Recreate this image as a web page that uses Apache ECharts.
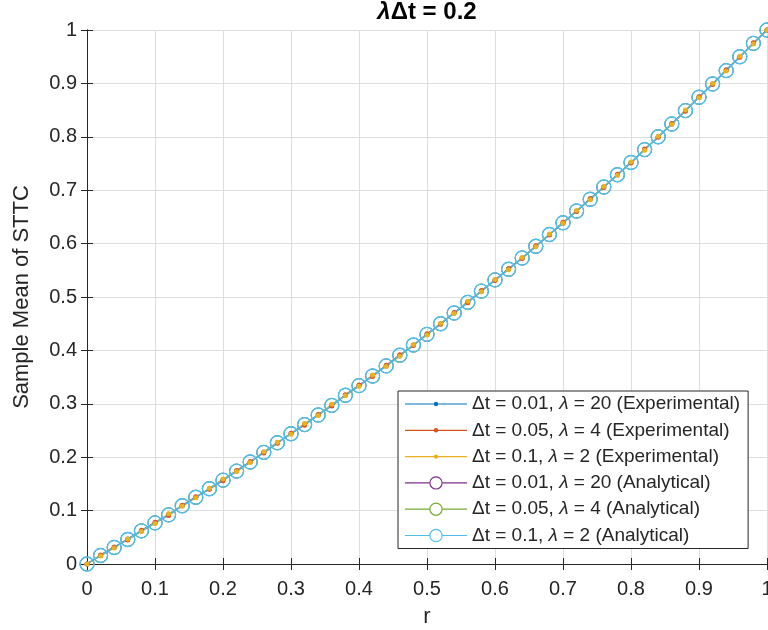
<!DOCTYPE html>
<html>
<head>
<meta charset="utf-8">
<title>Sample Mean of STTC</title>
<script src="https://cdn.jsdelivr.net/npm/echarts@6/dist/echarts.min.js"></script>
<style>
  html, body { margin: 0; padding: 0; background: #fff; }
  #chart { width: 768px; height: 630px; }
</style>
</head>
<body>
<div id="chart"></div>
<script>
// Spike-train correlation r on the x axis
const rValues = [0, 0.02, 0.04, 0.06, 0.08, 0.1, 0.12, 0.14, 0.16, 0.18,
  0.2, 0.22, 0.24, 0.26, 0.28, 0.3, 0.32, 0.34, 0.36, 0.38,
  0.4, 0.42, 0.44, 0.46, 0.48, 0.5, 0.52, 0.54, 0.56, 0.58,
  0.6, 0.62, 0.64, 0.66, 0.68, 0.7, 0.72, 0.74, 0.76, 0.78,
  0.8, 0.82, 0.84, 0.86, 0.88, 0.9, 0.92, 0.94, 0.96, 0.98, 1];

// Simulated sample means of the STTC
const expDt001 = [0, 0.016, 0.031, 0.047, 0.062, 0.077, 0.093, 0.109, 0.125, 0.141,
  0.158, 0.174, 0.191, 0.209, 0.227, 0.244, 0.262, 0.279, 0.298, 0.316,
  0.334, 0.353, 0.371, 0.390, 0.410, 0.430, 0.450, 0.470, 0.491, 0.511,
  0.532, 0.553, 0.573, 0.595, 0.617, 0.638, 0.661, 0.684, 0.706, 0.729,
  0.752, 0.776, 0.800, 0.824, 0.849, 0.874, 0.899, 0.925, 0.950, 0.975, 1.0];
const expDt005 = [0, 0.017, 0.032, 0.045, 0.063, 0.078, 0.091, 0.110, 0.126, 0.140,
  0.156, 0.175, 0.192, 0.208, 0.226, 0.245, 0.260, 0.280, 0.296, 0.317,
  0.335, 0.351, 0.372, 0.392, 0.409, 0.431, 0.449, 0.471, 0.489, 0.512,
  0.531, 0.553, 0.572, 0.596, 0.616, 0.640, 0.660, 0.684, 0.705, 0.730,
  0.751, 0.777, 0.799, 0.825, 0.848, 0.875, 0.898, 0.925, 0.949, 0.976, 1.0];
const expDt01 = [0, 0.015, 0.030, 0.047, 0.061, 0.076, 0.094, 0.108, 0.124, 0.142,
  0.159, 0.173, 0.190, 0.210, 0.228, 0.243, 0.263, 0.278, 0.299, 0.315,
  0.333, 0.354, 0.370, 0.389, 0.411, 0.429, 0.451, 0.469, 0.492, 0.510,
  0.533, 0.551, 0.574, 0.594, 0.618, 0.638, 0.662, 0.682, 0.707, 0.728,
  0.753, 0.775, 0.801, 0.823, 0.850, 0.873, 0.900, 0.923, 0.951, 0.974, 1.0];

// Analytical expectation (depends only on the product λΔt, so shared by all three)
const analyticalMean = [0, 0.016, 0.031, 0.046, 0.062, 0.077, 0.092, 0.109, 0.125, 0.141,
  0.157, 0.174, 0.191, 0.209, 0.227, 0.244, 0.261, 0.279, 0.297, 0.316,
  0.334, 0.352, 0.371, 0.391, 0.410, 0.430, 0.450, 0.470, 0.490, 0.511,
  0.532, 0.552, 0.573, 0.595, 0.617, 0.639, 0.661, 0.683, 0.706, 0.729,
  0.752, 0.776, 0.800, 0.824, 0.849, 0.874, 0.899, 0.924, 0.950, 0.975, 1.0];

const axisTicks = { min: 0, max: 1, interval: 0.1 };

const FONT = '"Liberation Sans", Arial, Helvetica, sans-serif';
const INK = '#262626';

const seriesDefs = [
  { name: 'Δt = 0.01, λ = 20 (Experimental)', values: expDt001, color: '#0072BD', kind: 'exp', width: 1.3 },
  { name: 'Δt = 0.05, λ = 4 (Experimental)', values: expDt005, color: '#D95319', kind: 'exp', width: 1.3 },
  { name: 'Δt = 0.1, λ = 2 (Experimental)', values: expDt01, color: '#EDB120', kind: 'exp', width: 1.3 },
  { name: 'Δt = 0.01, λ = 20 (Analytical)', values: analyticalMean, color: '#7E2F8E', kind: 'ana', width: 0.8 },
  { name: 'Δt = 0.05, λ = 4 (Analytical)', values: analyticalMean, color: '#77AC30', kind: 'ana', width: 0.8 },
  { name: 'Δt = 0.1, λ = 2 (Analytical)', values: analyticalMean, color: '#4DBEEE', kind: 'ana', width: 1.4 }
];

// Legend glyphs: a line with a small dot, or a line broken by an open ring
const dotIcon = 'path://M0,1.6H62V2.8H0Z M33.2,2.2A2.2,2.2 0 1 1 28.8,2.2A2.2,2.2 0 1 1 33.2,2.2Z';
const ringIcon = 'path://M0,6.1H24.3V7.3H0Z M37.7,6.1H62V7.3H37.7Z ' +
  'M37.7,6.7A6.7,6.7 0 1 1 24.3,6.7A6.7,6.7 0 1 1 37.7,6.7Z ' +
  'M36.5,6.7A5.5,5.5 0 1 0 25.5,6.7A5.5,5.5 0 1 0 36.5,6.7Z';

function buildSeries(def) {
  const data = rValues.map((r, i) => [r, def.values[i]]);
  const common = {
    name: def.name,
    type: 'line',
    data: data,
    xAxisIndex: 0,
    yAxisIndex: 0,
    showSymbol: true,
    symbol: 'circle',
    lineStyle: { color: def.color, width: def.width },
    emphasis: { disabled: true },
    silent: true
  };
  if (def.kind === 'exp') {
    common.symbolSize = 5;
    common.itemStyle = { color: def.color, borderWidth: 0 };
  } else {
    common.symbolSize = 14;
    common.itemStyle = { color: 'rgba(0,0,0,0)', borderColor: def.color, borderWidth: def.width };
  }
  return common;
}

const tickLabel = { fontFamily: FONT, fontSize: 20, color: INK };
const legendRich = {
  n: { fontFamily: FONT, fontSize: 19, color: INK, lineHeight: 20 },
  i: { fontFamily: FONT, fontSize: 19, color: INK, lineHeight: 20, fontStyle: 'italic' }
};

const chart = echarts.init(document.getElementById('chart'), null, { renderer: 'canvas' });

chart.setOption({
  animation: false,
  backgroundColor: '#ffffff',
  title: {
    text: '{i|λ}{b|Δt = 0.2}',
    left: 427,
    top: 0,
    textAlign: 'center',
    padding: 0,
    textStyle: {
      rich: {
        i: { fontFamily: FONT, fontSize: 24, fontWeight: 'bold', fontStyle: 'italic', color: '#000' },
        b: { fontFamily: FONT, fontSize: 24, fontWeight: 'bold', color: '#000' }
      }
    }
  },
  grid: { left: 87, right: 1, top: 30, bottom: 66, containLabel: false, outerBoundsMode: 'none' },
  xAxis: [
    {
      type: 'value', position: 'bottom',
      min: axisTicks.min, max: axisTicks.max, interval: axisTicks.interval,
      name: 'r', nameLocation: 'middle', nameGap: 42,
      nameTextStyle: { fontFamily: FONT, fontSize: 22, color: INK },
      axisLine: { show: true, lineStyle: { color: INK, width: 1 } },
      axisTick: { show: true, inside: true, length: 6, lineStyle: { color: INK } },
      axisLabel: Object.assign({ margin: 15 }, tickLabel),
      splitLine: { show: true, lineStyle: { color: '#dedede', width: 1 } }
    },
    {
      type: 'value', position: 'top',
      min: axisTicks.min, max: axisTicks.max, interval: axisTicks.interval,
      axisLine: { show: true, lineStyle: { color: INK, width: 1 } },
      axisTick: { show: true, inside: true, length: 6, lineStyle: { color: INK } },
      axisLabel: { show: false },
      splitLine: { show: false }
    }
  ],
  yAxis: [
    {
      type: 'value', position: 'left',
      min: axisTicks.min, max: axisTicks.max, interval: axisTicks.interval,
      name: 'Sample Mean of STTC', nameLocation: 'middle', nameGap: 54, nameRotate: 90,
      nameTextStyle: { fontFamily: FONT, fontSize: 22, color: INK },
      axisLine: { show: true, lineStyle: { color: INK, width: 1 } },
      axisTick: { show: true, inside: true, length: 6, lineStyle: { color: INK } },
      axisLabel: Object.assign({ margin: 10 }, tickLabel),
      splitLine: { show: true, lineStyle: { color: '#dedede', width: 1 } }
    },
    {
      type: 'value', position: 'right',
      min: axisTicks.min, max: axisTicks.max, interval: axisTicks.interval,
      axisLine: { show: true, lineStyle: { color: INK, width: 1 } },
      axisTick: { show: true, inside: true, length: 6, lineStyle: { color: INK } },
      axisLabel: { show: false },
      splitLine: { show: false }
    }
  ],
  legend: {
    orient: 'vertical',
    left: 398,
    top: 391,
    itemWidth: 62,
    itemHeight: 14,
    itemGap: 6.3,
    padding: [3, 8, 3, 7],
    backgroundColor: '#ffffff',
    borderColor: INK,
    borderWidth: 1,
    borderRadius: 0,
    selectedMode: false,
    symbolKeepAspect: true,
    data: seriesDefs.map(d => ({
      name: d.name,
      icon: d.kind === 'exp' ? dotIcon : ringIcon,
      itemStyle: { color: d.color, borderWidth: 0 }
    })),
    formatter: name => '{n|' + name.replace('λ', '}{i|λ}{n|') + '}',
    textStyle: { fontFamily: FONT, fontSize: 19, color: INK, lineHeight: 20, rich: legendRich }
  },
  series: seriesDefs.map(buildSeries)
});
</script>
</body>
</html>
